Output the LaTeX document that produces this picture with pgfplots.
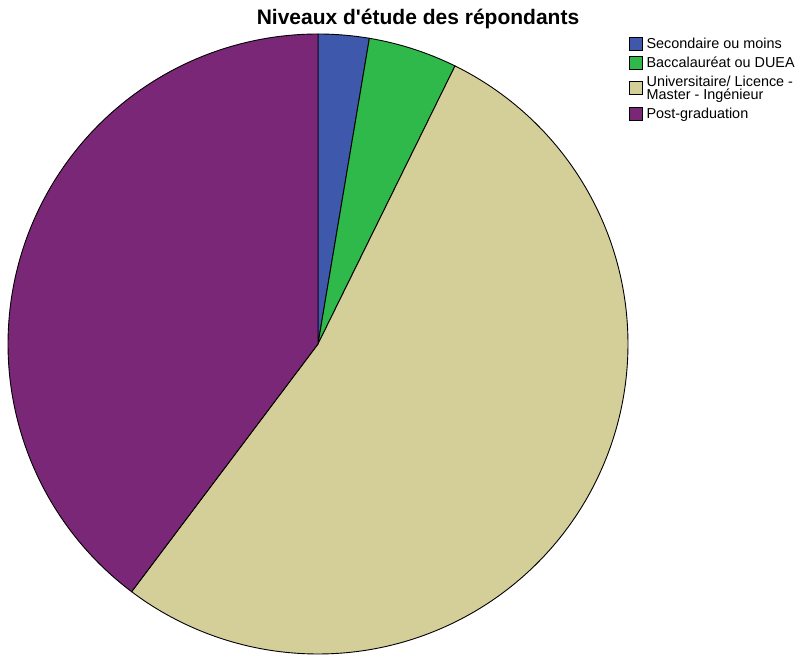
\documentclass[border=0pt]{standalone}
\usepackage{pgfplots}
\pgfplotsset{compat=1.18}
\usepackage{fontspec}
\setmainfont{Liberation Sans}
\definecolor{cBlue}{HTML}{3E58AC}
\definecolor{cGreen}{HTML}{2FB94A}
\definecolor{cBeige}{HTML}{D4CE99}
\definecolor{cPurple}{HTML}{7B2777}
% counts: Secondaire 4, Bacc 7, Universitaire 80, Post-grad 60 (n=151)
% slice boundaries in degrees (start at 90, clockwise)
\def\aA{90}
\def\aB{80.46}
\def\aC{63.77}
\def\aD{-126.96}
\def\aE{-270}
\def\cx{318}
\def\cy{311}
\def\rr{310}
\begin{document}
\begin{tikzpicture}
\begin{axis}[
  scale only axis, width=800bp, height=655bp,
  xmin=0, xmax=800, ymin=0, ymax=655,
  hide axis, clip=false,
  legend cell align=left,
  legend style={at={(axis cs:629,619)}, anchor=north west, draw=none, fill=none,
    font=\fontsize{14.4bp}{13.5bp}\selectfont, inner sep=0pt,
    row sep=4bp,
    nodes={align=left, inner xsep=3.5bp, inner ysep=1.5bp}},
  legend image code/.code={\draw[#1, draw=black] (0bp,-6.5bp) rectangle (13bp,6.5bp);},
]
\path (rel axis cs:0,0) rectangle (rel axis cs:1,1);
\addplot[fill=cBlue, draw=black, line width=0.9bp, domain=\aB:\aA, samples=40]
  ({\cx+\rr*cos(x)},{\cy+\rr*sin(x)}) -- (axis cs:\cx,\cy) -- cycle;
\addlegendentry{Secondaire ou moins}
\addplot[fill=cGreen, draw=black, line width=0.9bp, domain=\aC:\aB, samples=40]
  ({\cx+\rr*cos(x)},{\cy+\rr*sin(x)}) -- (axis cs:\cx,\cy) -- cycle;
\addlegendentry{Baccalauréat ou DUEA}
\addplot[fill=cBeige, draw=black, line width=0.9bp, domain=\aD:\aC, samples=200]
  ({\cx+\rr*cos(x)},{\cy+\rr*sin(x)}) -- (axis cs:\cx,\cy) -- cycle;
\addlegendentry{Universitaire/ Licence -\\Master - Ingénieur}
\addplot[fill=cPurple, draw=black, line width=0.9bp, domain=\aE:\aD, samples=150]
  ({\cx+\rr*cos(x)},{\cy+\rr*sin(x)}) -- (axis cs:\cx,\cy) -- cycle;
\addlegendentry{Post-graduation}
\node[anchor=base, font=\fontsize{21bp}{24bp}\selectfont\bfseries] at (axis cs:418,630) {Niveaux d\textquotesingle étude des répondants};
\end{axis}
\end{tikzpicture}
\end{document}
